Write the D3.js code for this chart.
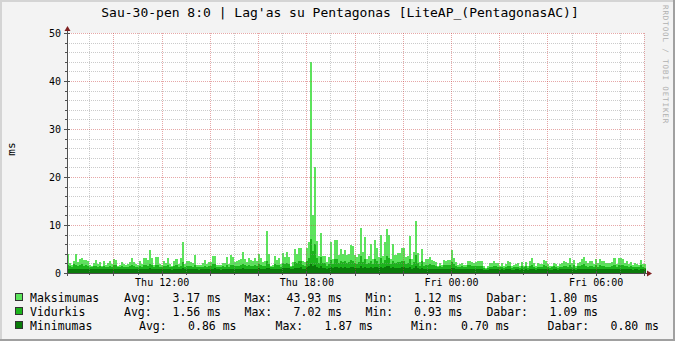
<!DOCTYPE html>
<html><head><meta charset="utf-8">
<script src="https://cdn.jsdelivr.net/npm/d3@7"></script>
<style>body{margin:0;background:#f3f3f3}svg{display:block}text{font-family:"DejaVu Sans Mono",monospace}</style>
</head><body><svg id="c" width="675" height="341"></svg>
<script>
const titleText = "Sau-30-pen 8:0 | Lag'as su Pentagonas [LiteAP_(PentagonasAC)]";
const unitLabel = "ms";
const watermark = "RRDTOOL / TOBI OETIKER";
const seriesNames = ["Maksimumas", "Vidurkis", "Minimumas"];
const seriesColors = ["#5CE45C", "#1CB41C", "#0A7C0A"];
const legendAvg = ["3.17 ms", "1.56 ms", "0.86 ms"];
const legendMax = ["43.93 ms", "7.02 ms", "1.87 ms"];
const legendMin = ["1.12 ms", "0.93 ms", "0.70 ms"];
const legendNow = ["1.80 ms", "1.09 ms", "0.80 ms"];
const yTicks = [0, 10, 20, 30, 40, 50];
const xTickLabels = ["Thu 12:00", "Thu 18:00", "Fri 00:00", "Fri 06:00"];

const maxValues = [4.0,2.0,1.7,2.6,4.0,2.2,3.0,3.2,2.7,2.8,2.5,1.7,
1.5,2.1,2.8,1.9,2.2,1.5,2.4,1.7,2.0,2.4,1.9,2.9,
2.8,1.5,1.7,2.3,1.8,1.7,1.9,2.2,3.2,2.2,1.8,1.7,
2.4,1.8,3.2,3.2,2.8,4.7,3.1,1.7,3.4,3.3,1.8,1.7,
2.5,2.1,3.2,1.8,1.5,2.5,2.9,1.9,3.1,6.4,1.9,2.4,
2.5,2.2,2.0,3.8,1.7,1.7,1.7,2.0,2.8,1.9,2.2,2.2,
3.6,3.6,1.7,1.7,1.7,2.1,2.0,3.4,1.9,3.8,3.3,2.2,
2.4,2.8,2.9,4.4,2.9,2.2,3.2,2.8,2.5,3.1,2.6,4.0,
3.1,2.2,2.4,8.8,4.0,1.5,1.7,3.6,2.8,3.1,1.9,4.2,
3.4,4.4,3.3,1.5,2.2,4.9,4.0,5.3,5.3,2.5,2.2,5.3,
6.4,43.93,12.0,22.1,6.7,3.6,8.3,3.6,3.5,2.2,3.3,6.5,
2.9,6.9,6.9,3.75,5.0,4.0,4.8,3.75,4.0,5.8,5.7,3.75,
3.3,4.0,9.4,4.4,7.4,2.9,3.6,6.1,2.9,6.9,5.3,3.3,
7.9,3.6,6.5,9.2,8.0,2.9,6.1,3.75,4.2,4.2,5.3,5.3,
3.3,3.6,7.8,2.9,4.3,10.9,4.2,2.2,5.1,2.2,2.9,2.9,
3.3,2.8,2.5,2.2,1.5,2.0,1.7,2.8,2.6,2.8,2.8,4.7,
3.1,2.2,1.7,1.9,2.1,1.7,1.7,2.6,2.6,2.2,2.1,2.2,
2.4,2.4,2.5,1.4,1.12,1.5,2.0,2.0,2.4,2.1,2.0,1.5,
2.0,1.5,1.9,2.5,2.2,1.5,1.7,1.9,2.0,1.5,2.2,1.5,
2.2,1.5,2.5,3.1,2.0,1.5,2.0,1.9,1.9,2.8,2.5,1.9,
1.5,1.5,2.1,1.9,1.5,1.9,2.0,2.5,2.2,2.0,3.1,2.0,
2.8,1.5,2.1,2.2,2.9,3.3,2.6,2.0,2.5,2.4,1.9,2.9,
2.0,2.9,2.6,2.5,2.0,2.0,2.0,2.2,3.2,1.9,3.2,3.1,
2.9,2.1,2.5,1.9,2.2,1.7,2.0,1.9,1.7,2.8,1.9,1.8];

const avgValues = [1.6,1.4,1.3,1.8,1.7,1.5,1.6,1.8,1.5,1.7,1.4,1.3,
1.2,1.4,1.5,1.3,1.4,1.2,1.5,1.3,1.3,1.4,1.3,1.6,
1.7,1.2,1.3,1.4,1.3,1.2,1.3,1.4,1.7,1.4,1.3,1.2,
1.5,1.3,1.6,1.7,1.5,1.9,1.6,1.3,1.7,1.6,1.3,1.2,
1.5,1.4,1.6,1.3,1.2,1.5,1.6,1.3,1.5,2.2,1.3,1.5,
1.5,1.4,1.3,1.7,1.2,1.2,1.2,1.3,1.5,1.3,1.4,1.4,
1.8,1.9,1.3,1.2,1.2,1.4,1.3,1.6,1.3,1.7,1.6,1.4,
1.4,1.5,1.6,1.9,1.6,1.4,1.7,1.5,1.5,1.6,1.5,1.9,
1.7,1.4,1.5,2.6,1.9,1.2,1.3,1.8,1.6,1.7,1.3,2.0,
1.8,2.1,1.8,1.2,1.5,2.3,2.0,2.4,2.5,1.6,1.5,2.5,
3.2,7.02,4.6,6.0,3.1,2.0,3.4,2.0,2.0,1.5,1.9,2.8,
1.8,2.9,3.0,2.1,2.5,2.2,2.4,2.0,2.2,2.7,2.6,2.1,
1.9,2.2,3.6,2.3,3.0,1.8,2.0,2.6,1.8,2.9,2.5,1.9,
3.1,2.0,2.7,3.5,3.2,1.8,2.6,2.1,2.2,2.2,2.4,2.5,
1.9,2.0,3.0,1.7,2.2,3.8,2.1,1.5,2.4,1.5,1.7,1.7,
1.8,1.7,1.6,1.5,1.2,1.4,1.3,1.7,1.6,1.7,1.7,2.3,
1.8,1.4,1.3,1.3,1.4,1.2,1.3,1.6,1.6,1.4,1.4,1.4,
1.5,1.5,1.5,1.1,0.93,1.1,1.3,1.3,1.5,1.4,1.3,1.2,
1.3,1.1,1.3,1.5,1.4,1.1,1.2,1.3,1.3,1.1,1.4,1.2,
1.4,1.1,1.5,1.7,1.3,1.1,1.3,1.3,1.3,1.6,1.5,1.3,
1.1,1.2,1.4,1.3,1.1,1.3,1.3,1.5,1.4,1.3,1.7,1.3,
1.6,1.1,1.4,1.4,1.6,1.8,1.5,1.3,1.5,1.5,1.3,1.6,
1.3,1.6,1.5,1.5,1.3,1.3,1.3,1.4,1.7,1.3,1.7,1.7,
1.6,1.4,1.5,1.3,1.4,1.2,1.3,1.3,1.2,1.6,1.3,1.09];

const minValues = [0.9,0.8,0.8,0.9,0.85,0.8,0.85,0.9,0.8,0.85,0.8,0.75,
0.75,0.8,0.8,0.75,0.8,0.75,0.8,0.75,0.8,0.8,0.75,0.85,
0.9,0.75,0.8,0.8,0.75,0.75,0.8,0.8,0.85,0.8,0.75,0.75,
0.8,0.75,0.85,0.9,0.8,0.95,0.85,0.75,0.9,0.85,0.75,0.75,
0.8,0.8,0.85,0.75,0.7,0.8,0.85,0.75,0.8,1.0,0.75,0.8,
0.8,0.8,0.75,0.9,0.75,0.7,0.75,0.75,0.8,0.75,0.8,0.8,
0.9,0.95,0.75,0.75,0.7,0.8,0.75,0.85,0.75,0.9,0.85,0.8,
0.8,0.85,0.85,0.95,0.85,0.8,0.9,0.85,0.8,0.85,0.8,0.95,
0.9,0.8,0.8,1.1,0.95,0.75,0.75,0.9,0.85,0.9,0.75,1.0,
0.95,1.05,0.95,0.75,0.85,1.1,1.0,1.1,1.2,0.85,0.8,1.2,
1.4,1.87,1.5,1.7,1.3,1.0,1.4,1.0,1.0,0.85,1.0,1.3,
0.95,1.3,1.35,1.05,1.2,1.1,1.15,1.0,1.1,1.25,1.2,1.05,
1.0,1.1,1.5,1.1,1.3,0.95,1.0,1.2,0.95,1.3,1.2,1.0,
1.35,1.0,1.25,1.5,1.4,0.95,1.2,1.05,1.1,1.1,1.15,1.2,
1.0,1.0,1.3,0.9,1.1,1.5,1.05,0.85,1.1,0.85,0.9,0.9,
0.9,0.9,0.85,0.85,0.75,0.8,0.75,0.9,0.85,0.9,0.9,1.1,
0.95,0.8,0.75,0.75,0.8,0.75,0.75,0.85,0.85,0.8,0.8,0.8,
0.85,0.85,0.85,0.72,0.70,0.72,0.75,0.75,0.8,0.8,0.75,0.72,
0.75,0.72,0.75,0.8,0.8,0.72,0.72,0.75,0.75,0.72,0.8,0.72,
0.8,0.72,0.8,0.9,0.75,0.72,0.75,0.75,0.75,0.85,0.8,0.75,
0.72,0.72,0.8,0.75,0.72,0.75,0.75,0.8,0.8,0.75,0.9,0.75,
0.85,0.72,0.8,0.8,0.85,0.9,0.8,0.75,0.8,0.8,0.75,0.85,
0.75,0.85,0.8,0.8,0.75,0.75,0.75,0.8,0.9,0.75,0.9,0.9,
0.85,0.8,0.8,0.75,0.8,0.72,0.75,0.75,0.72,0.85,0.75,0.80];

const W = 675, H = 341;
const plotL = 67, plotR = 644, plotT = 33, plotB = 273;
const STEP = 5 * 60 * 1000;
const HOUR = 3600 * 1000;
const t0 = Date.UTC(2009, 0, 29, 8, 4, 20);
const t1 = t0 + 24 * HOUR;

const svg = d3.select("#c");
const x = d3.scaleUtc().domain([t0, t1]).range([plotL, plotL + 24 * 24.11]);
const y = d3.scaleLinear().domain([0, 50]).range([plotB, plotT]);

// background and 3d border
svg.append("rect").attr("width", W).attr("height", H).attr("fill", "#f3f3f3");
svg.append("rect").attr("x", 0).attr("y", 0).attr("width", W).attr("height", 2).attr("fill", "#d4d4d4");
svg.append("rect").attr("x", 0).attr("y", 0).attr("width", 2).attr("height", H).attr("fill", "#d4d4d4");
svg.append("rect").attr("x", W - 2).attr("y", 0).attr("width", 2).attr("height", H).attr("fill", "#a0a0a0");
svg.append("rect").attr("x", 0).attr("y", H - 2).attr("width", W).attr("height", 2).attr("fill", "#a0a0a0");

// canvas
svg.append("rect").attr("x", plotL).attr("y", plotT).attr("width", plotR - plotL).attr("height", plotB - plotT).attr("fill", "#ffffff");

// data bars
const series = [maxValues, avgValues, minValues];
const gData = svg.append("g").attr("shape-rendering", "crispEdges");
series.forEach((vals, si) => {
  gData.append("g").selectAll("rect").data(vals).join("rect")
    .attr("x", (d, i) => Math.round(x(t0 + i * STEP)))
    .attr("width", (d, i) => Math.round(x(t0 + (i + 1) * STEP)) - Math.round(x(t0 + i * STEP)))
    .attr("y", d => Math.round(y(Math.min(d, 50))))
    .attr("height", d => plotB - Math.round(y(Math.min(d, 50))))
    .attr("fill", seriesColors[si]);
});

// grid
const gGrid = svg.append("g").attr("shape-rendering", "crispEdges");
const minorY = d3.range(2, 51, 2).filter(v => v % 10 !== 0);
gGrid.selectAll(".hmin").data(minorY).join("line")
  .attr("x1", plotL).attr("x2", plotR)
  .attr("y1", d => y(d) + 0.5).attr("y2", d => y(d) + 0.5)
  .attr("stroke", "rgba(140,140,140,0.45)").attr("stroke-dasharray", "1,1");
const hours = d3.utcHour.range(t0, t1);
gGrid.selectAll(".vmin").data(hours.filter(h => h.getUTCHours() % 2 !== 0)).join("line")
  .attr("x1", d => Math.round(x(d)) + 0.5).attr("x2", d => Math.round(x(d)) + 0.5)
  .attr("y1", plotT).attr("y2", plotB)
  .attr("stroke", "rgba(140,140,140,0.45)").attr("stroke-dasharray", "1,1");
gGrid.selectAll(".hmaj").data(yTicks.filter(v => v > 0)).join("line")
  .attr("x1", plotL).attr("x2", plotR)
  .attr("y1", d => y(d) + 0.5).attr("y2", d => y(d) + 0.5)
  .attr("stroke", "rgba(200,60,60,0.45)").attr("stroke-dasharray", "1,1");
gGrid.selectAll(".vmaj").data(hours.filter(h => h.getUTCHours() % 2 === 0)).join("line")
  .attr("x1", d => Math.round(x(d)) + 0.5).attr("x2", d => Math.round(x(d)) + 0.5)
  .attr("y1", plotT).attr("y2", plotB)
  .attr("stroke", "rgba(200,60,60,0.45)").attr("stroke-dasharray", "1,1");

// axes
const axisColor = "#505050", arrowColor = "#7f1f1f";
const gAx = svg.append("g").attr("shape-rendering", "crispEdges");
gAx.append("line").attr("x1", plotL - 3).attr("x2", 648).attr("y1", plotB + 0.5).attr("y2", plotB + 0.5).attr("stroke", axisColor);
gAx.append("line").attr("x1", plotL + 0.5).attr("x2", plotL + 0.5).attr("y1", plotB + 3).attr("y2", 29).attr("stroke", axisColor);
// ticks
d3.range(0, 51, 2).forEach(v => {
  const maj = v % 10 === 0;
  gAx.append("line").attr("x1", plotL - (maj ? 3 : 2)).attr("x2", plotL + (maj ? 3 : 0))
    .attr("y1", y(v) + 0.5).attr("y2", y(v) + 0.5).attr("stroke", axisColor);
});
hours.forEach(h => {
  const maj = h.getUTCHours() % 2 === 0;
  const xx = Math.round(x(h)) + 0.5;
  gAx.append("line").attr("x1", xx).attr("x2", xx)
    .attr("y1", plotB - (maj ? 2 : 0)).attr("y2", plotB + (maj ? 3 : 2)).attr("stroke", axisColor);
});
// arrows
svg.append("path").attr("d", "M" + (plotL - 2.5) + ",31 L" + (plotL + 3.5) + ",31 L" + (plotL + 0.5) + ",26 Z").attr("fill", arrowColor);
svg.append("path").attr("d", "M647," + (plotB - 2.5) + " L647," + (plotB + 3.5) + " L652," + (plotB + 0.5) + " Z").attr("fill", arrowColor);

// y labels
svg.append("g").selectAll("text").data(yTicks).join("text")
  .attr("x", 61).attr("y", d => y(d) + 4)
  .attr("text-anchor", "end").attr("font-size", "10px").attr("fill", "#000")
  .text(d => d);

// x labels
const labelTimes = [Date.UTC(2009,0,29,12), Date.UTC(2009,0,29,18), Date.UTC(2009,0,30,0), Date.UTC(2009,0,30,6)];
svg.append("g").selectAll("text").data(xTickLabels).join("text")
  .attr("x", (d, i) => x(labelTimes[i]) + 0.5).attr("y", 285.5)
  .attr("text-anchor", "middle").attr("font-size", "10px").attr("fill", "#000")
  .text(d => d);

// title
svg.append("text").attr("x", 340).attr("y", 17).attr("text-anchor", "middle")
  .attr("font-size", "13px").attr("fill", "#000").text(titleText);

// unit label
svg.append("text").attr("transform", "translate(15,149) rotate(-90)").attr("text-anchor", "middle")
  .attr("font-size", "11px").attr("fill", "#000").text(unitLabel);

// watermark
svg.append("text").attr("transform", "translate(663,5) rotate(90)")
  .attr("font-size", "7.5px").attr("letter-spacing", "0.9px").attr("fill", "#b0b0b0").text(watermark);

// legend
const rowsY = [302, 316, 330];
const labelX = [[124, 244.5, 365.5, 486.4], [124, 244.5, 365.5, 486.4], [139, 275.5, 411.1, 547.6]];
const valueEnd = [[221, 342, 462.5, 598], [221, 342, 462.5, 598], [236.5, 373, 509.5, 659]];
const labelNames = ["Avg:", "Max:", "Min:", "Dabar:"];
const gL = svg.append("g").attr("font-size", "11.5px").attr("fill", "#000");
seriesNames.forEach((name, r) => {
  const yy = rowsY[r];
  gL.append("rect").attr("x", 15.5).attr("y", yy - 8.5).attr("width", 7).attr("height", 7)
    .attr("fill", seriesColors[r]).attr("stroke", "#333").attr("stroke-width", 1).attr("shape-rendering", "crispEdges");
  gL.append("text").attr("x", 30).attr("y", yy).text(name);
  const vals = [legendAvg[r], legendMax[r], legendMin[r], legendNow[r]];
  labelNames.forEach((ln, k) => {
    gL.append("text").attr("x", labelX[r][k]).attr("y", yy).text(ln);
    gL.append("text").attr("x", valueEnd[r][k]).attr("y", yy).attr("text-anchor", "end").text(vals[k]);
  });
});
</script>
</body></html>
